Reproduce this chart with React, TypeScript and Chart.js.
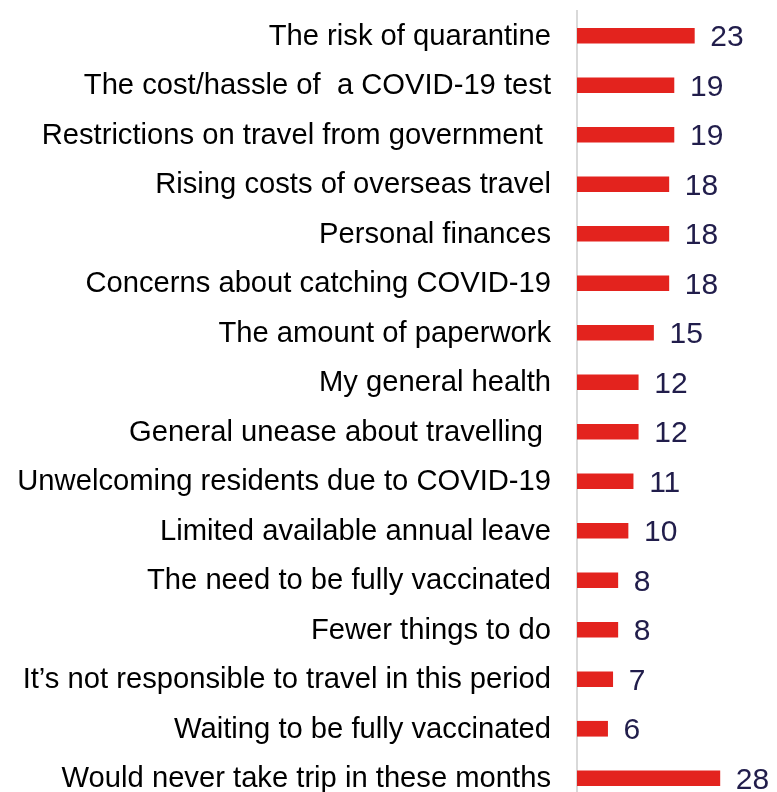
import React, { useEffect, useRef } from "react";
import { Chart, registerables } from "chart.js";

Chart.register(...registerables);

const categories: string[] = [
  "The risk of quarantine",
  "The cost/hassle of  a COVID-19 test",
  "Restrictions on travel from government ",
  "Rising costs of overseas travel",
  "Personal finances",
  "Concerns about catching COVID-19",
  "The amount of paperwork",
  "My general health",
  "General unease about travelling ",
  "Unwelcoming residents due to COVID-19",
  "Limited available annual leave",
  "The need to be fully vaccinated",
  "Fewer things to do",
  "It\u2019s not responsible to travel in this period",
  "Waiting to be fully vaccinated",
  "Would never take trip in these months",
];

const values: number[] = [23, 19, 19, 18, 18, 18, 15, 12, 12, 11, 10, 8, 8, 7, 6, 28];

const BAR_COLOR = "#E3231E";
const VALUE_COLOR = "#211D4B";
const FONT = "'Liberation Sans', Arial, sans-serif";

const valueLabels = {
  id: "valueLabels",
  afterDatasetsDraw(chart: any) {
    const ctx = chart.ctx;
    const meta = chart.getDatasetMeta(0);
    ctx.save();
    ctx.font = `30px ${FONT}`;
    ctx.fillStyle = VALUE_COLOR;
    ctx.textAlign = "left";
    ctx.textBaseline = "middle";
    meta.data.forEach((bar: any, i: number) => {
      ctx.fillText(String(values[i]), bar.x + 16, bar.y + 2);
    });
    ctx.restore();
  },
};

export default function App() {
  const ref = useRef<HTMLCanvasElement | null>(null);
  useEffect(() => {
    if (!ref.current) return;
    const chart = new Chart(ref.current, {
      type: "bar",
      data: {
        labels: categories,
        datasets: [
          {
            data: values,
            backgroundColor: BAR_COLOR,
            borderWidth: 0,
            barThickness: 15,
          },
        ],
      },
      options: {
        indexAxis: "y",
        animation: false,
        responsive: false,
        maintainAspectRatio: false,
        layout: { padding: { top: 11, bottom: 7, left: 0, right: 1 } },
        plugins: {
          legend: { display: false },
          tooltip: { enabled: false },
        },
        scales: {
          x: {
            display: false,
            min: 0,
            max: 39,
          },
          y: {
            afterFit: (scale: any) => {
              scale.width = 577;
              scale.paddingTop = 0;
              scale.paddingBottom = 0;
            },
            grid: { display: false, drawTicks: false },
            border: { display: true, color: "#d9d9d9", width: 2 },
            ticks: {
              color: "#000000",
              padding: 26,
              labelOffset: 1,
              font: { family: FONT, size: 29.2 },
              autoSkip: false,
            },
          },
        },
      },
      plugins: [valueLabels],
    });
    return () => chart.destroy();
  }, []);
  return (
    <div
      style={{
        position: "fixed",
        left: 0,
        top: 0,
        width: 777,
        height: 792,
        overflow: "hidden",
        background: "#ffffff",
      }}
    >
      <canvas ref={ref} width={777} height={810} style={{ display: "block" }} />
    </div>
  );
}
